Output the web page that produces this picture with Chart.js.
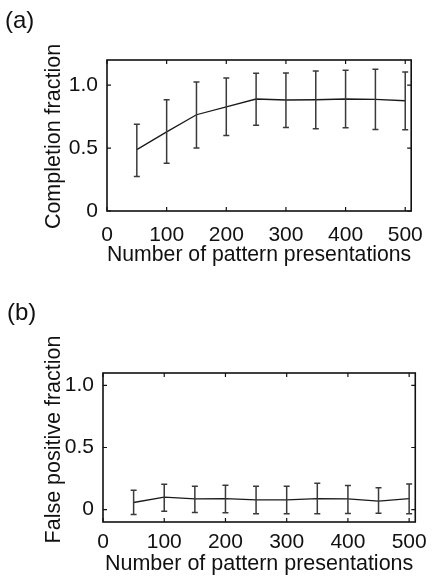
<!DOCTYPE html>
<html><head><meta charset="utf-8">
<script src="https://cdn.jsdelivr.net/npm/chart.js@4/dist/chart.umd.min.js"></script>
<style>
html,body{margin:0;padding:0;background:#fff;width:435px;height:577px;overflow:hidden;font-family:'Liberation Sans',Arial,sans-serif;}
.wrap{position:absolute;left:0;width:435px;}
.lab{position:absolute;font-size:24px;color:#111;line-height:1;}
canvas{display:block;}
</style></head><body>
<div class="wrap" style="top:0;height:280px"><canvas id="ca" width="435" height="280"></canvas></div>
<div class="wrap" style="top:285px;height:292px"><canvas id="cb" width="435" height="292"></canvas></div>
<div class="lab" style="left:5px;top:8px">(a)</div>
<div class="lab" style="left:7px;top:300px">(b)</div>
<script>
// ---- data ----
const presentations = [50, 100, 150, 200, 250, 300, 350, 400, 450, 500];
const completionMean  = [0.488, 0.629, 0.765, 0.828, 0.890, 0.882, 0.884, 0.890, 0.887, 0.876];
const completionUpper = [0.690, 0.885, 1.025, 1.057, 1.095, 1.097, 1.113, 1.119, 1.127, 1.105];
const completionLower = [0.275, 0.379, 0.500, 0.600, 0.682, 0.664, 0.653, 0.661, 0.648, 0.645];
const falsePosMean  = [0.057, 0.100, 0.086, 0.089, 0.078, 0.078, 0.089, 0.086, 0.068, 0.089];
const falsePosUpper = [0.156, 0.205, 0.188, 0.196, 0.188, 0.188, 0.212, 0.194, 0.175, 0.207];
const falsePosLower = [-0.040, -0.013, -0.024, -0.026, -0.034, -0.034, -0.034, -0.031, -0.029, -0.034];
const xTickValues = [0, 100, 200, 300, 400, 500];
const yTickValues = [0, 0.5, 1.0];
const xTitle = 'Number of pattern presentations';
const yTitleA = 'Completion fraction';
const yTitleB = 'False positive fraction';

const FONT = "'Liberation Sans', Arial, Helvetica, sans-serif";
const INK = '#111';

const errorBarPlugin = {
  id: 'errorBars',
  afterDatasetsDraw(chart, args, opts) {
    const xs = chart.scales.x, ys = chart.scales.y, ctx = chart.ctx;
    ctx.save();
    ctx.strokeStyle = '#3a3a3a';
    ctx.lineWidth = 1.5;
    const cap = 3;
    opts.x.forEach((xv, i) => {
      const px = xs.getPixelForValue(xv);
      const pu = ys.getPixelForValue(opts.upper[i]);
      const pl = ys.getPixelForValue(opts.lower[i]);
      ctx.beginPath();
      ctx.moveTo(px, pu); ctx.lineTo(px, pl);
      ctx.moveTo(px - cap, pu); ctx.lineTo(px + cap, pu);
      ctx.moveTo(px - cap, pl); ctx.lineTo(px + cap, pl);
      ctx.stroke();
    });
    ctx.restore();
  }
};

const framePlugin = {
  id: 'frame',
  afterDraw(chart, args, opts) {
    const a = chart.chartArea, ctx = chart.ctx;
    const xs = chart.scales.x, ys = chart.scales.y;
    ctx.save();
    ctx.strokeStyle = '#111';
    ctx.lineWidth = 1.2;
    const t = 4;
    ctx.beginPath();
    xs.ticks.forEach(tk => {
      const p = xs.getPixelForValue(tk.value);
      ctx.moveTo(p, a.bottom); ctx.lineTo(p, a.bottom - t);
      ctx.moveTo(p, a.top); ctx.lineTo(p, a.top + t);
    });
    ys.ticks.forEach(tk => {
      const p = ys.getPixelForValue(tk.value);
      ctx.moveTo(a.left, p); ctx.lineTo(a.left + t, p);
      ctx.moveTo(a.right, p); ctx.lineTo(a.right - t, p);
    });
    ctx.stroke();
    ctx.lineWidth = 1.6;
    ctx.strokeRect(a.left, a.top, a.right - a.left, a.bottom - a.top);
    // vertical axis title
    ctx.fillStyle = INK;
    ctx.font = "21.5px " + FONT;
    ctx.textAlign = 'center';
    ctx.textBaseline = 'middle';
    ctx.translate(opts.titleX, (a.top + a.bottom) / 2 + opts.titleShift);
    ctx.rotate(-Math.PI / 2);
    ctx.fillText(opts.text, 0, 0);
    ctx.restore();
  }
};

function makeChart(id, mean, upper, lower, yMin, yMax, yTitle, titleShift, pad, yWidth, xHeight, xPad) {
  return new Chart(document.getElementById(id), {
    type: 'line',
    data: {
      datasets: [{
        data: presentations.map((x, i) => ({x: x, y: mean[i]})),
        borderColor: '#1a1a1a',
        borderWidth: 1.3,
        pointRadius: 0,
        tension: 0,
        fill: false
      }]
    },
    options: {
      responsive: false,
      animation: false,
      layout: { padding: pad },
      plugins: {
        legend: { display: false },
        tooltip: { enabled: false },
        errorBars: { x: presentations, upper: upper, lower: lower },
        frame: { text: yTitle, titleX: 54, titleShift: titleShift }
      },
      scales: {
        x: {
          type: 'linear', min: 0, max: 510,
          afterBuildTicks: s => { s.ticks = xTickValues.map(v => ({value: v})); },
          afterFit: s => { s.height = xHeight; },
          grid: { display: false, drawTicks: false },
          border: { display: false },
          ticks: { color: INK, font: { family: FONT, size: 21 }, padding: xPad, maxRotation: 0, autoSkip: false,
                   callback: v => String(v) },
          title: { display: true, text: xTitle, color: INK, font: { family: FONT, size: 21.5 }, padding: 0 }
        },
        y: {
          type: 'linear', min: yMin, max: yMax,
          afterBuildTicks: s => { s.ticks = yTickValues.map(v => ({value: v})); },
          afterFit: s => { s.width = yWidth; },
          grid: { display: false, drawTicks: false },
          border: { display: false },
          ticks: { color: INK, font: { family: FONT, size: 21 }, padding: 9,
                   callback: v => (v === 0 ? '0' : v.toFixed(1)) },
          title: { display: false }
        }
      }
    },
    plugins: [errorBarPlugin, framePlugin]
  });
}

makeChart('ca', completionMean, completionUpper, completionLower, 0, 1.2, yTitleA, 1,
  { left: 43, right: 13, top: 60, bottom: 12 }, 64, 57, 12);
makeChart('cb', falsePosMean, falsePosUpper, falsePosLower, -0.1, 1.1, yTitleB, -8,
  { left: 41, right: 17, top: 88, bottom: 0 }, 62, 55, 8);
</script>
</body></html>
